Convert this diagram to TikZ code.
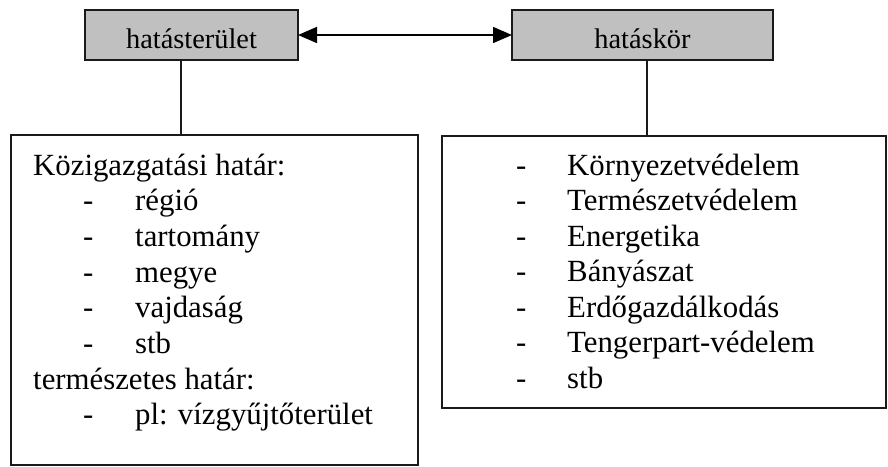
\documentclass[tikz,border=0pt]{standalone}
\usepackage{fontspec}
\setmainfont{Liberation Serif}
\usetikzlibrary{arrows.meta,positioning}
\definecolor{BoxGray}{HTML}{C0C0C0}
\definecolor{BoxLine}{HTML}{1A1A1A}

\begin{document}
\begin{tikzpicture}[x=1pt,y=-1pt]
  \tikzset{hd/.style={draw=BoxLine,fill=BoxGray,line width=1.5pt,inner sep=0pt,outer sep=0pt,anchor=north west,minimum height=50pt,text height=26pt,text depth=0pt,font=\fontsize{28.4}{34}\selectfont},
    lst/.style={draw=BoxLine,line width=1.5pt,inner sep=0pt,outer sep=0pt,anchor=north west},
    ln/.style={anchor=base west,inner sep=0pt,font=\fontsize{30.8}{35.7}\selectfont}}
  \useasboundingbox (0,0) rectangle (888,466);
  % top boxes
  \node[hd,minimum width=213pt] (ter) at (85,10) {hatásterület};
  \node[hd,minimum width=261pt] (kor) at (512,10) {hatáskör};
  % list boxes
  \node[lst,minimum width=407pt,minimum height=330pt] (terbox) at (11,135) {};
  \node[lst,minimum width=444pt,minimum height=272pt] (korbox) at (442,136) {};
  % left list
  \node[ln] (t0) at (33,175) {Közigazgatási határ:};
  \foreach \w [count=\i] in {régió,tartomány,megye,vajdaság,stb}{
    \node[ln] (td\i) at (83,175+35.7*\i) {-};
    \node[ln] (ti\i) at (135,175+35.7*\i) {\w};
  }
  \node[ln] (t6) at (33,175+35.7*6) {természetes határ:};
  \node[ln] (td7) at (83,175+35.7*7) {-};
  \node[ln] (ti7) at (135,175+35.7*7) {pl: vízgyűjtőterület};
  % right list
  \foreach \w [count=\i] in {Környezetvédelem,Természetvédelem,Energetika,Bányászat,Erdőgazdálkodás,Tengerpart-védelem,stb}{
    \node[ln] (kd\i) at (516,175+35.55*\i-35.55) {-};
    \node[ln] (ki\i) at (567,175+35.55*\i-35.55) {\w};
  }
  % connectors
  \coordinate (lj) at (181,0);
  \coordinate (rj) at (647,0);
  \draw[BoxLine,line width=1.5pt] (ter.south -| lj) -- (terbox.north -| lj);
  \draw[BoxLine,line width=1.5pt] (kor.south -| rj) -- (korbox.north -| rj);
  \draw[{Triangle[length=19pt,width=16pt]}-{Triangle[length=19pt,width=16pt]},line width=1.5pt] (ter.east) -- (kor.west);
\end{tikzpicture}
\end{document}
